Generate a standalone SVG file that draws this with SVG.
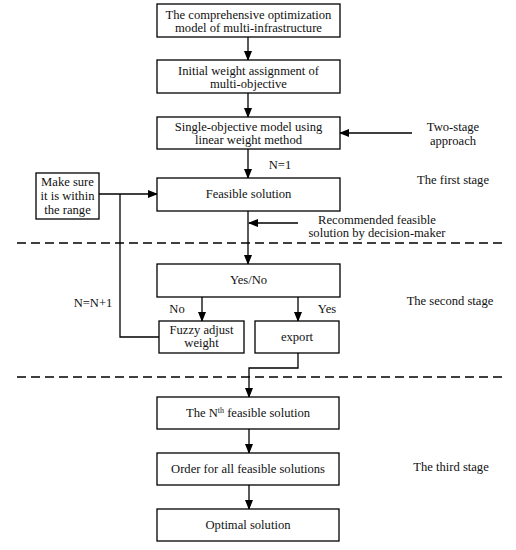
<svg xmlns="http://www.w3.org/2000/svg" width="516" height="550" viewBox="0 0 516 550">
<defs>
<marker id="ah" markerWidth="10" markerHeight="8" refX="9" refY="4" orient="auto" markerUnits="userSpaceOnUse">
<path d="M0,0 L10,4 L0,8 Z" fill="#000"/>
</marker>
<style>
.box{fill:#fff;stroke:#000;stroke-width:1.3}
.t{font-family:"Liberation Serif","Times New Roman",serif;font-size:12.6px;fill:#111;text-anchor:middle}
.c{fill:none;stroke:#000;stroke-width:1.3}
.a{marker-end:url(#ah)}
.d{fill:none;stroke:#000;stroke-width:1.3;stroke-dasharray:9,5}
</style>
</defs>
<rect width="516" height="550" fill="#fff"/>
<g id="connectors">
<line class="c a" x1="248" y1="37" x2="248" y2="60"/>
<line class="c a" x1="248" y1="93" x2="248" y2="117"/>
<line class="c a" x1="412" y1="133" x2="340" y2="133"/>
<line class="c a" x1="248" y1="149" x2="248" y2="178"/>
<line class="c a" x1="99" y1="194" x2="157" y2="194"/>
<line class="c a" x1="248" y1="211" x2="248" y2="264"/>
<line class="c a" x1="298" y1="223" x2="249" y2="223"/>
<line class="c a" x1="202" y1="297" x2="202" y2="321"/>
<line class="c a" x1="298" y1="297" x2="298" y2="321"/>
<polyline class="c" points="159,337 120,337 120,194"/>
<polyline class="c a" points="298,353 298,368 249,368 249,397"/>
<line class="c a" x1="249" y1="429" x2="249" y2="453"/>
<line class="c a" x1="249" y1="485" x2="249" y2="509"/>
</g>
<g id="dividers">
<line class="d" x1="17" y1="243" x2="502" y2="243"/>
<line class="d" x1="17" y1="377" x2="502" y2="377"/>
</g>
<g id="n1"><rect class="box" x="157" y="4" width="183" height="33"/>
<text class="t" x="248.5" y="19">The comprehensive optimization</text>
<text class="t" x="248.5" y="32">model of multi-infrastructure</text></g>
<g id="n2"><rect class="box" x="157" y="60" width="183" height="33"/>
<text class="t" x="248.5" y="75">Initial weight assignment of</text>
<text class="t" x="248.5" y="88">multi-objective</text></g>
<g id="n3"><rect class="box" x="157" y="117" width="183" height="32"/>
<text class="t" x="248.5" y="131">Single-objective model using</text>
<text class="t" x="248.5" y="144">linear weight method</text></g>
<g id="n4"><rect class="box" x="157" y="178" width="183" height="33"/>
<text class="t" x="248.5" y="198">Feasible solution</text></g>
<g id="n5"><rect class="box" x="36" y="173" width="63" height="46"/>
<text class="t" x="67.5" y="186">Make sure</text>
<text class="t" x="67.5" y="200">it is within</text>
<text class="t" x="67.5" y="214">the range</text></g>
<g id="n6"><rect class="box" x="157" y="264" width="183" height="33"/>
<text class="t" x="248.5" y="284">Yes/No</text></g>
<g id="n7"><rect class="box" x="159" y="321" width="85" height="32"/>
<text class="t" x="201.5" y="334">Fuzzy adjust</text>
<text class="t" x="201.5" y="347">weight</text></g>
<g id="n8"><rect class="box" x="255" y="321" width="84" height="32"/>
<text class="t" x="297" y="341">export</text></g>
<g id="n9"><rect class="box" x="157" y="397" width="182" height="32"/>
<text class="t" x="248" y="417">The N<tspan font-size="8" dy="-4">th</tspan><tspan dy="4"> feasible solution</tspan></text></g>
<g id="n10"><rect class="box" x="157" y="453" width="182" height="32"/>
<text class="t" x="248" y="473">Order for all feasible solutions</text></g>
<g id="n11"><rect class="box" x="157" y="509" width="182" height="32"/>
<text class="t" x="248" y="529">Optimal solution</text></g>
<g id="labels">
<text class="t" x="280" y="169">N=1</text>
<text class="t" x="453" y="131">Two-stage</text>
<text class="t" x="453" y="145">approach</text>
<text class="t" x="453" y="184">The first stage</text>
<text class="t" x="377" y="224">Recommended feasible</text>
<text class="t" x="377" y="237">solution by decision-maker</text>
<text class="t" x="177" y="313">No</text>
<text class="t" x="327" y="313">Yes</text>
<text class="t" x="93" y="307">N=N+1</text>
<text class="t" x="450" y="305">The second stage</text>
<text class="t" x="451" y="471">The third stage</text>
</g>
</svg>
